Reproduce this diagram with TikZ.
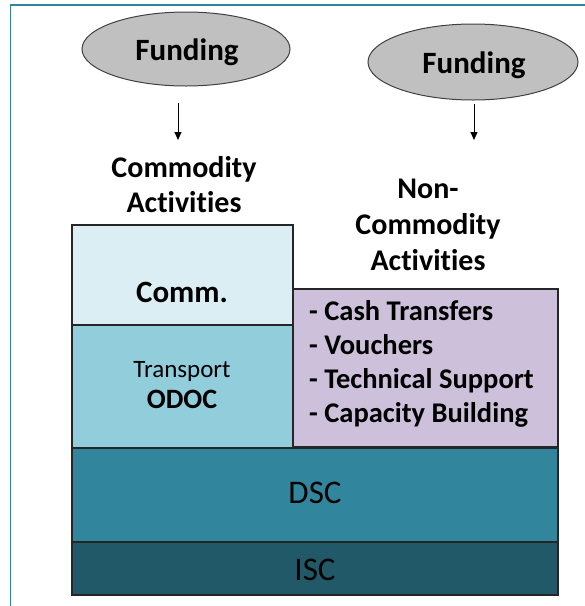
\documentclass[tikz,border=0pt]{standalone}
\usepackage{fontspec}
\setmainfont{Carlito}[Ligatures=NoCommon]
\usetikzlibrary{arrows.meta,shapes.geometric}
\definecolor{frameC}{HTML}{2E8799}
\definecolor{ellC}{HTML}{C0C0C0}
\definecolor{commC}{HTML}{DAEEF3}
\definecolor{transC}{HTML}{92CDDC}
\definecolor{purpC}{HTML}{CCC0DA}
\definecolor{dscC}{HTML}{31859C}
\definecolor{iscC}{HTML}{215968}
\tikzset{
  fundell/.style={ellipse, draw=black!75, line width=1pt, fill=ellC, inner sep=0pt},
  layerbox/.style={rectangle, draw=black!85, line width=1.4pt, inner sep=0pt, outer sep=0pt, anchor=north west},
  arr/.style={-{Triangle[length=8pt,width=7pt]}, line width=1pt},
  bigtxt/.style={font=\fontsize{30}{35}\selectfont\bfseries, inner sep=0pt, anchor=base, align=center},
  listtxt/.style={font=\fontsize{28.5}{34}\selectfont\bfseries, inner sep=0pt, anchor=base west, align=left},
  regtxt/.style={font=\fontsize{33}{36}\selectfont, inner sep=0pt, anchor=base}
}
\begin{document}
\begin{tikzpicture}[x=1pt,y=-1pt]
\useasboundingbox (0,0) rectangle (585,606);
% frame
\draw[frameC, line width=1.5pt] (10.5,606) -- (10.5,5) -- (585,5);
% ellipses
\node[fundell, minimum width=208pt, minimum height=74pt] (f1) at (186,49) {};
\node[fundell, minimum width=210pt, minimum height=76pt] (f2) at (473,62) {};
\node[bigtxt, font=\fontsize{31}{35}\selectfont\bfseries] (f1t) at (187,60) {Funding};
\node[bigtxt, font=\fontsize{31}{35}\selectfont\bfseries] (f2t) at (474,73) {Funding};
% headings (base anchor = last line baseline)
\node[bigtxt] (ca) at (184,212) {Commodity\\Activities};
\node[bigtxt, font=\fontsize{30}{36}\selectfont\bfseries] (nca) at (428,270) {Non-\\Commodity\\Activities};
% arrows
\coordinate (a1e) at (178,140);
\coordinate (a2e) at (474,140);
\draw[arr, shorten <=16pt] (f1.south -| a1e) -- (a1e);
\draw[arr, shorten <=3pt] (f2.south -| a2e) -- (a2e);
% boxes
\node[layerbox, fill=commC, minimum width=221pt, minimum height=100pt] (comm) at (72,225) {};
\node[layerbox, fill=transC, minimum width=221pt, minimum height=123pt] (trans) at (72,325) {};
\node[layerbox, fill=purpC, minimum width=265pt, minimum height=158pt] (nonc) at (293,289) {};
\node[layerbox, fill=dscC, minimum width=486pt, minimum height=94pt] (dsc) at (72,448) {};
\node[layerbox, fill=iscC, minimum width=486pt, minimum height=53pt] (isc) at (72,542) {};
% box texts
\node[bigtxt, font=\fontsize{31}{35}\selectfont\bfseries] (commt) at (182,302) {Comm.};
\node[regtxt, font=\fontsize{25}{28}\selectfont] (transt) at (182,377) {Transport};
\node[bigtxt, font=\fontsize{28}{30}\selectfont\bfseries] (odoc) at (182,408) {ODOC};
\node[listtxt] (list) at (309,422) {- Cash Transfers\\- Vouchers\\- Technical Support\\- Capacity Building};
\node[regtxt] (dsct) at (315,503) {DSC};
\node[regtxt] (isct) at (315,580) {ISC};
\end{tikzpicture}
\end{document}
